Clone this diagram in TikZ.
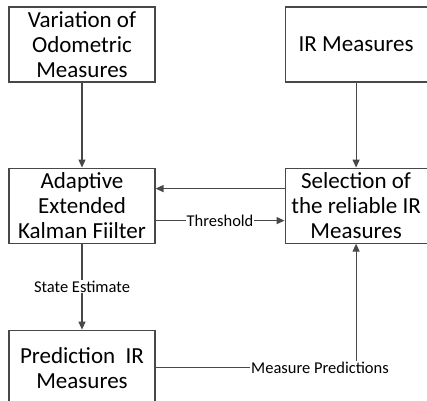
\documentclass[tikz,border=0pt]{standalone}
\usepackage{fontspec}
\setmainfont{Carlito}
\usetikzlibrary{positioning,arrows.meta}
\definecolor{linegray}{RGB}{72,72,72}

\begin{document}
\begin{tikzpicture}[x=1pt,y=1pt,
  block/.style={draw=linegray, line width=1.1pt, align=center, minimum height=75pt, inner sep=2pt, font=\fontsize{23}{25}\selectfont},
  wide/.style={block, minimum width=146pt},
  narrow/.style={block, minimum width=142pt},
  conn/.style={draw=linegray, line width=1.2pt, -{Triangle[length=8pt,width=7pt]}},
  lbl/.style={fill=white, inner sep=1pt, font=\fontsize{16.5}{18}\selectfont}]

  \useasboundingbox (0,0) rectangle (427,400);

  % Define nodes
  \node[wide] (var) at (82,355.5) {Variation of\\Odometric\\Measures};
  \node[wide, below=85pt of var] (akf) {Adaptive\\Extended\\Kalman Fiilter};
  \node[wide, below=86pt of akf] (pred) {Prediction~ IR\\Measures};
  \node[narrow, right=129pt of akf] (sel) {Selection of\\the reliable IR\\Measures};
  \node[narrow, above=85pt of sel] (ir) {IR Measures};

  % Connect the nodes
  \draw[conn] (var) -- (akf);
  \draw[conn] (ir) -- (sel);
  \draw[conn] ([yshift=17pt]sel.west) -- ([yshift=17pt]akf.east);
  \draw[conn] ([yshift=-15pt]akf.east) -- node[lbl] {Threshold} ([yshift=-15pt]sel.west);
  \draw[conn] (akf) -- node[lbl] {State Estimate} (pred);
  \draw[conn] (pred.east) -| node[lbl, pos=0.41] {Measure Predictions} (sel.south);

\end{tikzpicture}
\end{document}
